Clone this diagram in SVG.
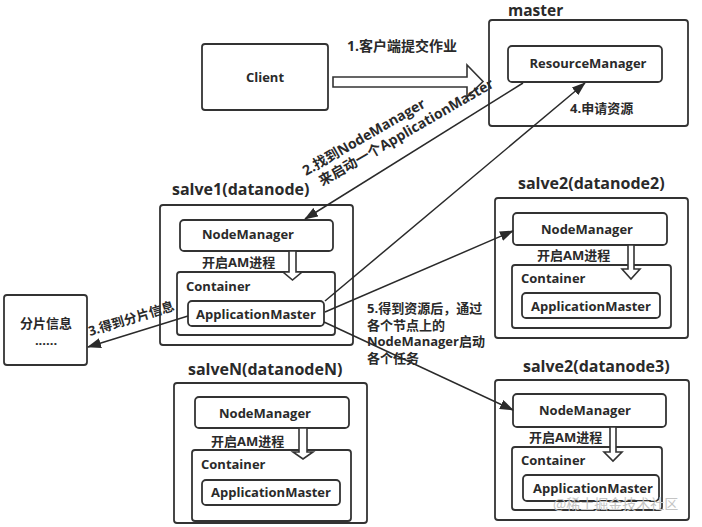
<svg xmlns="http://www.w3.org/2000/svg" width="702" height="527" viewBox="0 0 702 527">
<defs>
<style>
.box{fill:#fff;stroke:#333;stroke-width:1.8}
.t{font-family:"Open Sans","Noto Sans CJK SC",sans-serif;font-weight:bold;fill:#2a2a2a;font-size:13px;dominant-baseline:central}
.title{font-size:16px}
.c{text-anchor:middle}
.lbl{font-family:"Open Sans","Noto Sans CJK SC",sans-serif;font-weight:bold;fill:#2a2a2a;font-size:13px}
.hollow{fill:#fff;stroke:#333;stroke-width:1.6;stroke-linejoin:miter}
.conn{fill:none;stroke:#2a2a2a;stroke-width:1.5}
.wm{font-family:"Noto Sans CJK SC",sans-serif;font-size:14px;fill:#c4c4c4;dominant-baseline:central}
</style>
<marker id="ah" markerWidth="14" markerHeight="10" refX="13" refY="5" orient="auto" markerUnits="userSpaceOnUse">
<path d="M0,0 L14,5 L0,10 Z" fill="#2a2a2a"/>
</marker>
</defs>
<rect width="702" height="527" fill="#fff"/>

<g id="client">
<rect class="box" x="202" y="44" width="126" height="66" rx="3"/>
<text class="t c" x="265" y="77">Client</text>
</g>

<g id="master">
<text class="lbl" x="508" y="16" style="font-size:15.5px">master</text>
<rect class="box" x="489" y="20" width="199" height="106" rx="3"/>
<g id="resourcemanager">
<rect class="box" x="508" y="46" width="154" height="36" rx="4"/>
<text class="t c" x="588" y="63">ResourceManager</text>
</g>
</g>

<g id="salve1">
<text class="t title" x="172" y="189">salve1(datanode)</text>
<rect class="box" x="160" y="205" width="193" height="140" rx="3"/>
<rect class="box" x="180" y="220" width="153" height="31" rx="4"/>
<text class="t c" x="248" y="234">NodeManager</text>
<text class="t" x="202" y="262">开启AM进程</text>
<rect class="box" x="177" y="272" width="158" height="63" rx="3"/>
<text class="t" x="186" y="286">Container</text>
<rect class="box" x="188" y="301" width="136" height="25" rx="4"/>
<text class="t c" x="256" y="314">ApplicationMaster</text>
<polygon class="hollow" points="289,251 296,251 296,272 302,272 292.5,280 283,272 289,272"/>
</g>

<g id="salve2">
<text class="t title" x="518" y="183">salve2(datanode2)</text>
<rect class="box" x="495" y="198" width="193" height="140" rx="3"/>
<rect class="box" x="513" y="213" width="154" height="32" rx="4"/>
<text class="t c" x="587" y="229">NodeManager</text>
<text class="t" x="537" y="255">开启AM进程</text>
<rect class="box" x="512" y="265" width="159" height="63" rx="3"/>
<text class="t" x="521" y="278">Container</text>
<rect class="box" x="522" y="293" width="138" height="25" rx="4"/>
<text class="t c" x="591" y="306">ApplicationMaster</text>
<polygon class="hollow" points="628,245 634,245 634,269 640,269 631,279 622,269 628,269"/>
</g>

<g id="salveN">
<text class="t title" x="188" y="369">salveN(datanodeN)</text>
<rect class="box" x="174" y="383" width="193" height="140" rx="3"/>
<rect class="box" x="195" y="397" width="154" height="31" rx="4"/>
<text class="t c" x="265" y="413">NodeManager</text>
<text class="t" x="211" y="441">开启AM进程</text>
<rect class="box" x="192" y="450" width="159" height="71" rx="3"/>
<text class="t" x="201" y="464">Container</text>
<rect class="box" x="202" y="480" width="138" height="25" rx="4"/>
<text class="t c" x="271" y="492">ApplicationMaster</text>
<polygon class="hollow" points="299,428 307,428 307,452 313,452 303,459 293,452 299,452"/>
</g>

<g id="salve3">
<text class="t title" x="523" y="366">salve2(datanode3)</text>
<rect class="box" x="495" y="380" width="194" height="140" rx="3"/>
<rect class="box" x="513" y="394" width="153" height="33" rx="4"/>
<text class="t c" x="585" y="410">NodeManager</text>
<text class="t" x="529" y="437">开启AM进程</text>
<rect class="box" x="512" y="447" width="150" height="63" rx="3"/>
<text class="t" x="521" y="460">Container</text>
<rect class="box" x="523" y="475" width="136" height="26" rx="4"/>
<text class="t c" x="593" y="488">ApplicationMaster</text>
<polygon class="hollow" points="610,427 616,427 616,452 622,452 613,461 604,452 610,452"/>
</g>

<g id="splitinfo">
<rect class="box" x="4" y="295" width="83" height="70" rx="3"/>
<text class="t c" x="46" y="323">分片信息</text>
<text class="t c" x="46" y="340">......</text>
</g>

<g id="connectors">
<polygon class="hollow" points="333,77 467,77 467,65 483,81.5 467,97 467,87 333,87"/>
<line class="conn" x1="523" y1="83" x2="305" y2="219" marker-end="url(#ah)"/>
<line class="conn" x1="325" y1="301" x2="585" y2="83" marker-end="url(#ah)"/>
<line class="conn" x1="188" y1="316" x2="88" y2="347" marker-end="url(#ah)"/>
<line class="conn" x1="325" y1="312" x2="513" y2="231" marker-end="url(#ah)"/>
<line class="conn" x1="324" y1="322" x2="513" y2="410" marker-end="url(#ah)"/>
</g>

<g id="labels">
<text class="t" x="347" y="45" style="font-size:14px">1.客户端提交作业</text>
<text class="t" x="570" y="108">4.申请资源</text>
<text class="lbl" transform="translate(306,176) rotate(-30)" style="font-size:14px"><tspan x="0" y="0">2.找到NodeManager</tspan><tspan x="9" y="17">来启动一个ApplicationMaster</tspan></text>
<text class="lbl" transform="translate(90,336) rotate(-17)">3.得到分片信息</text>
<text class="t" x="367" y="308">5.得到资源后，通过</text>
<text class="t" x="367" y="324.5">各个节点上的</text>
<text class="t" x="367" y="341">NodeManager启动</text>
<text class="t" x="367" y="357.5">各个任务</text>
<text class="wm" x="553" y="503">@稀土掘金技术社区</text>
</g>
</svg>
